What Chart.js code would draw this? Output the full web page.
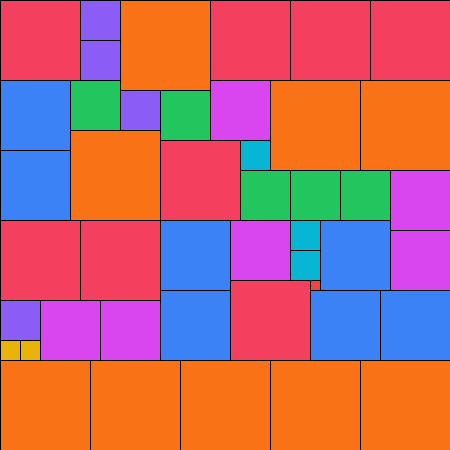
<!DOCTYPE html>
<html>
<head>
<meta charset="utf-8">
<script src="https://cdn.jsdelivr.net/npm/chart.js@4"></script>
<style>
html,body{margin:0;padding:0;background:#fff;}
#wrap{width:450px;height:450px;position:relative;}
</style>
</head>
<body>
<div id="wrap"><canvas id="c"></canvas></div>
<script>
// Groups (colour categories)
const categories = ['rose','violet','orange','blue','green','fuchsia','cyan','amber','red'];
const groupColors = ['#F43F5E','#8B5CF6','#F97316','#3B82F6','#22C55E','#D946EF','#06B6D4','#EAB308','#EF4444'];

// Cells in grid units (0..45): left, top, side, group
const cellX = [0,8,8,12,21,29,37, 0,0,7,12,16,21,27,36, 7,16,24,24,29,34,39,39, 0,8,16,23,29,29,32,31,23,16,31,38, 0,0,2,4,10, 0,9,18,27,36];
const cellY = [0,0,4,0,0,0,0, 8,15,8,9,9,8,8,8, 13,14,14,17,17,17,17,23, 22,22,22,22,22,25,22,28,28,29,29,29, 30,34,34,30,30, 36,36,36,36,36];
const cellSize = [8,4,4,9,8,8,8, 7,7,5,4,5,6,9,9, 9,8,3,5,5,5,6,6, 8,8,7,6,3,3,7,1,8,7,7,7, 4,2,2,6,6, 9,9,9,9,9];
const cellGroup = ['rose','violet','violet','orange','rose','rose','rose',
  'blue','blue','green','violet','green','fuchsia','orange','orange',
  'orange','rose','cyan','green','green','green','fuchsia','fuchsia',
  'rose','rose','blue','fuchsia','cyan','cyan','blue','red','rose','blue','blue','blue',
  'violet','amber','amber','fuchsia','fuchsia',
  'orange','orange','orange','orange','orange'];

const datasets = categories.map((cat, gi) => ({
  label: cat,
  backgroundColor: groupColors[gi],
  borderColor: '#000',
  pointRadius: 0,
  data: cellX.map((x, i) => ({x: x + cellSize[i]/2, y: cellY[i] + cellSize[i]/2, s: cellSize[i], g: cellGroup[i]}))
           .filter(d => d.g === cat)
}));

const squaresPlugin = {
  id: 'squares',
  afterDatasetsDraw(chart) {
    const ctx = chart.ctx, xs = chart.scales.x, ys = chart.scales.y;
    ctx.save();
    chart.data.datasets.forEach(ds => {
      ds.data.forEach(d => {
        const x0 = Math.round(xs.getPixelForValue(d.x - d.s/2));
        const x1 = Math.round(xs.getPixelForValue(d.x + d.s/2));
        const y0 = Math.round(ys.getPixelForValue(d.y - d.s/2));
        const y1 = Math.round(ys.getPixelForValue(d.y + d.s/2));
        ctx.fillStyle = ds.backgroundColor;
        ctx.fillRect(x0, y0, x1 - x0, y1 - y0);
      });
    });
    ctx.lineWidth = 1;
    chart.data.datasets.forEach(ds => {
      ds.data.forEach(d => {
        const x0 = Math.round(xs.getPixelForValue(d.x - d.s/2));
        const x1 = Math.round(xs.getPixelForValue(d.x + d.s/2));
        const y0 = Math.round(ys.getPixelForValue(d.y - d.s/2));
        const y1 = Math.round(ys.getPixelForValue(d.y + d.s/2));
        ctx.strokeStyle = ds.borderColor;
        ctx.strokeRect(x0 + 0.5, y0 + 0.5, x1 - x0, y1 - y0);
      });
    });
    ctx.restore();
  }
};

new Chart(document.getElementById('c'), {
  type: 'scatter',
  data: { datasets },
  options: {
    responsive: true,
    maintainAspectRatio: false,
    animation: false,
    layout: { padding: 0 },
    plugins: { legend: { display: false }, tooltip: { enabled: false } },
    scales: {
      x: { type: 'linear', min: 0, max: 45, display: false },
      y: { type: 'linear', min: 0, max: 45, reverse: true, display: false }
    }
  },
  plugins: [squaresPlugin]
});
</script>
</body>
</html>
